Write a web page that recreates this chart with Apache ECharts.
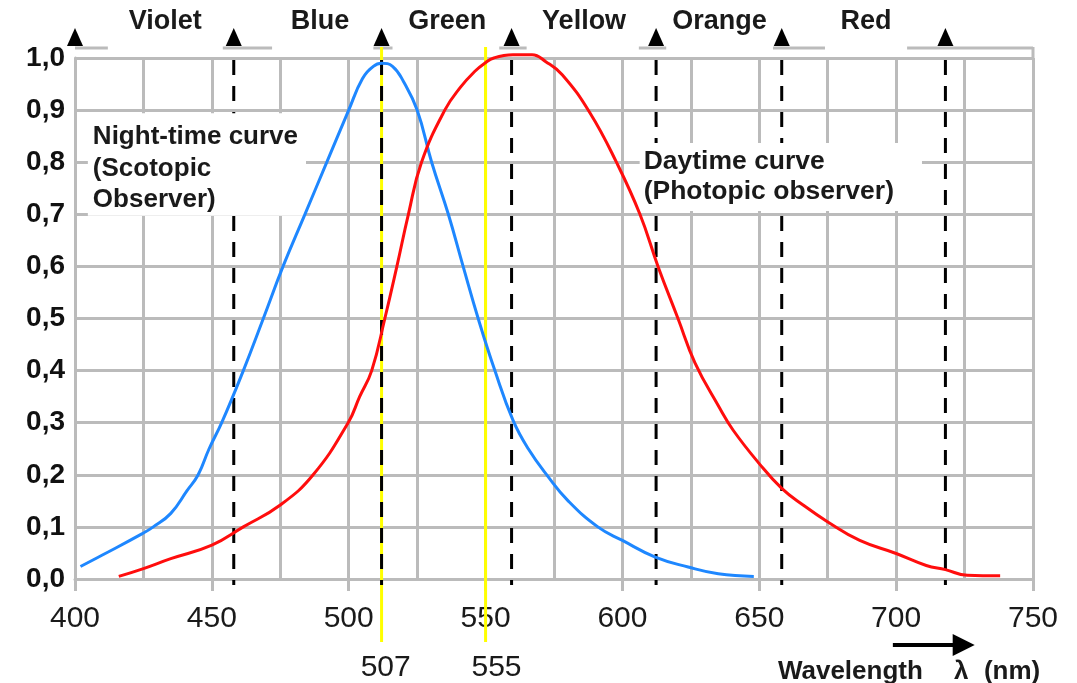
<!DOCTYPE html>
<html>
<head>
<meta charset="utf-8">
<script src="https://cdn.jsdelivr.net/npm/echarts@6/dist/echarts.min.js"></script>
<style>
  html, body { margin: 0; padding: 0; background: #fff; }
  #chart { width: 1077px; height: 683px; }
</style>
</head>
<body>
<div id="chart"></div>
<script>
  // night-time (scotopic) curve
  var nightX = [402, 410, 424.6, 428.6, 435, 441, 445, 449, 453.6, 461.5, 468.8, 476, 484, 492, 500, 505, 509, 512,
    516, 520, 525, 530.3, 536.4, 541.8, 547.3, 553.4, 560, 565.6, 572.9, 580, 591, 600, 612, 624, 635, 648];
  var nightY = [0.024, 0.046, 0.087, 0.1, 0.126, 0.17, 0.2, 0.25, 0.3, 0.4, 0.5, 0.6, 0.7, 0.8, 0.9, 0.96, 0.984, 0.99,
    0.984, 0.955, 0.9, 0.8, 0.7, 0.6, 0.5, 0.4, 0.305, 0.25, 0.196, 0.151, 0.1, 0.074, 0.042, 0.023, 0.01, 0.005];

  // daytime (photopic) curve
  var dayX = [416, 425, 435, 450, 461.5, 475, 487, 499.8, 504, 508.4, 513.2, 517.6, 521.8, 526.6, 535.1, 541, 546, 549.7,
    553, 560, 567, 572, 578, 588.1, 597.8, 606.4, 613, 620.3, 626.5, 635.3, 640.4, 649.9, 658.2, 666, 674.9, 686.7,
    700, 711, 718, 726, 738];
  var dayY = [0.005, 0.02, 0.039, 0.065, 0.1, 0.142, 0.2, 0.3, 0.35, 0.4, 0.5, 0.6, 0.7, 0.8, 0.9, 0.945, 0.974, 0.99,
    1.0, 1.006, 1.006, 0.993, 0.968, 0.895, 0.8, 0.7, 0.6, 0.5, 0.415, 0.33, 0.286, 0.222, 0.174, 0.142, 0.11, 0.074,
    0.049, 0.026, 0.018, 0.007, 0.006];

  // colour bands along the top
  var bandEdges = [400, 458, 512, 559.5, 612.3, 658.2, 718];
  var bandNames = ['Violet', 'Blue', 'Green', 'Yellow', 'Orange', 'Red'];
  var bandLabelX = [433, 489.5, 536, 586, 635.5, 689];
  var dashedX = [458, 512, 559.5, 612.3, 658.2, 718];

  // yellow peak markers
  var peakX = [512, 550];
  var peakLabels = ['507', '555'];
  var peakLabelX = [513.5, 554];

  // bits of the top frame that show
  var frameSegs = [[400, 412], [454, 472], [509, 516], [555, 565], [606, 616], [655, 674], [704, 750]];

  (function () {
    var FONT = "'Liberation Sans', Arial, sans-serif";
    var GRAY = '#bbbbbb';

    var chart = echarts.init(document.getElementById('chart'));

    function pairs(xs, ys) {
      return xs.map(function (x, i) { return [x, ys[i]]; });
    }

    chart.setOption({
      animation: false,
      grid: { left: 75, right: 44, top: 58, bottom: 104 },
      xAxis: {
        type: 'value', min: 400, max: 750, interval: 50,
        axisLine: { show: true, lineStyle: { color: GRAY, width: 3 } },
        axisTick: { show: true, length: 12, lineStyle: { color: GRAY, width: 3 } },
        axisLabel: { fontSize: 30, color: '#1a1a1a', margin: 25, fontFamily: FONT },
        splitLine: { show: true, lineStyle: { color: GRAY, width: 3 } },
        minorTick: { show: false, splitNumber: 2 },
        minorSplitLine: { show: true, lineStyle: { color: GRAY, width: 3 } }
      },
      yAxis: {
        type: 'value', min: 0, max: 1, interval: 0.1,
        axisLine: { show: true, lineStyle: { color: GRAY, width: 3 } },
        axisTick: { show: false },
        axisLabel: {
          fontSize: 28, fontWeight: 'bold', color: '#111', margin: 10, fontFamily: FONT,
          formatter: function (v) { return v.toFixed(1).replace('.', ','); }
        },
        splitLine: { show: true, lineStyle: { color: GRAY, width: 3 } }
      },
      series: [
        {
          name: 'Scotopic', type: 'line', data: pairs(nightX, nightY),
          smooth: 0.45, showSymbol: false, clip: false, z: 5,
          lineStyle: { color: '#1e87ff', width: 3 }
        },
        {
          name: 'Photopic', type: 'line', data: pairs(dayX, dayY),
          smooth: 0.45, showSymbol: false, clip: false, z: 5,
          lineStyle: { color: '#ff0d0d', width: 3 }
        }
      ]
    });

    function px(x, y) { return chart.convertToPixel({ gridIndex: 0 }, [x, y]); }
    var yTop = px(400, 1)[1];
    var yBot = px(400, 0)[1];
    var g = [];

    // top frame bits
    frameSegs.forEach(function (s) {
      g.push({ type: 'line', z: 1, shape: { x1: px(s[0], 1)[0], y1: yTop - 10, x2: px(s[1], 1)[0], y2: yTop - 10 },
        style: { stroke: GRAY, lineWidth: 3 } });
    });
    g.push({ type: 'line', z: 1, shape: { x1: px(750, 1)[0], y1: yTop - 11, x2: px(750, 1)[0], y2: yTop },
      style: { stroke: GRAY, lineWidth: 3 } });

    // triangles and band names
    bandEdges.forEach(function (e) {
      var x = px(e, 1)[0];
      g.push({ type: 'polygon', z: 6, shape: { points: [[x - 8, yTop - 12], [x + 8, yTop - 12], [x, yTop - 30]] },
        style: { fill: '#000' } });
    });
    bandNames.forEach(function (n, i) {
      g.push({ type: 'text', z: 6, x: px(bandLabelX[i], 1)[0], y: yTop - 36,
        style: { text: n, font: 'bold 27px ' + FONT, fill: '#1a1a1a', align: 'center', verticalAlign: 'middle' } });
    });

    // yellow peak lines
    peakX.forEach(function (p, i) {
      var x = px(p, 0)[0];
      g.push({ type: 'line', z: 2, shape: { x1: x, y1: yTop - 11, x2: x, y2: yBot + 63 },
        style: { stroke: '#ffff00', lineWidth: 3 } });
      g.push({ type: 'text', z: 6, x: px(peakLabelX[i], 0)[0], y: yBot + 89,
        style: { text: peakLabels[i], font: '30px ' + FONT, fill: '#1a1a1a', align: 'center', verticalAlign: 'middle' } });
    });

    // dashed band borders
    dashedX.forEach(function (d) {
      var x = px(d, 0)[0];
      g.push({ type: 'line', z: 3, shape: { x1: x, y1: yTop + 2, x2: x, y2: yBot + 6 },
        style: { stroke: '#000', lineWidth: 3, lineDash: [15, 11] } });
    });

    // notes
    var nightPos = px(404.7, 0.894);
    g.push({ type: 'text', z: 4, x: nightPos[0], y: nightPos[1],
      style: { text: 'Night-time curve\n(Scotopic\nObserver)', font: 'bold 26px ' + FONT, fill: '#1a1a1a',
        lineHeight: 31.5, backgroundColor: '#fff', padding: [8, 8, 0, 5] } });
    var dayPos = px(606.3, 0.837);
    g.push({ type: 'text', z: 4, x: dayPos[0], y: dayPos[1],
      style: { text: 'Daytime curve\n(Photopic observer)', font: 'bold 26.5px ' + FONT, fill: '#1a1a1a',
        lineHeight: 30, backgroundColor: '#fff', padding: [4, 28, 4, 4] } });

    // wavelength arrow and axis title
    var a0 = px(698.8, 0)[0], a1 = px(728.7, 0)[0];
    g.push({ type: 'line', z: 6, shape: { x1: a0, y1: yBot + 66, x2: a1 - 20, y2: yBot + 66 },
      style: { stroke: '#000', lineWidth: 4 } });
    g.push({ type: 'polygon', z: 6, shape: { points: [[a1 - 22, yBot + 55], [a1 - 22, yBot + 77], [a1, yBot + 66]] },
      style: { fill: '#000' } });
    var wx = px(656.8, 0)[0];
    [['Wavelength', 0], ['\u03bb', 176], ['(nm)', 206]].forEach(function (t) {
      g.push({ type: 'text', z: 6, x: wx + t[1], y: yBot + 93,
        style: { text: t[0], font: 'bold 26px ' + FONT, fill: '#1a1a1a', verticalAlign: 'middle' } });
    });

    chart.setOption({ graphic: g });
  })();
</script>
</body>
</html>
